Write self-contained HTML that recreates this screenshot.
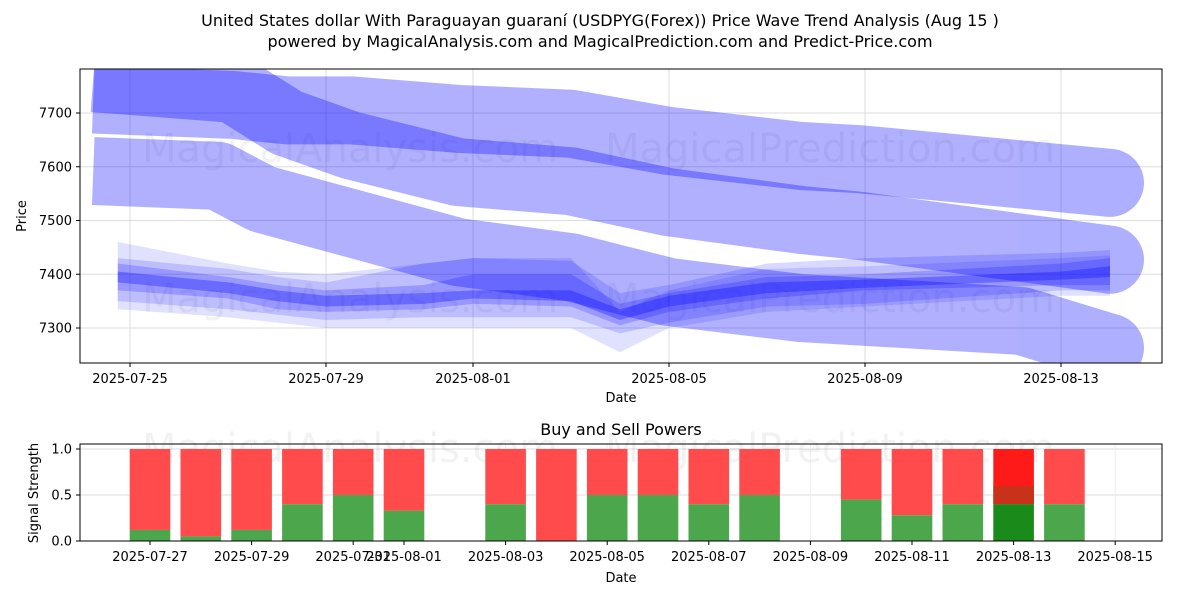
<!DOCTYPE html>
<html><head><meta charset="utf-8">
<style>
body{margin:0;background:#fff;font-family:"Liberation Sans","DejaVu Sans",sans-serif;}
svg text{font-family:"DejaVu Sans","Liberation Sans",sans-serif;}
</style></head>
<body>
<svg id="chart" width="1200" height="600" viewBox="0 0 1200 600" xmlns="http://www.w3.org/2000/svg">
<text x="600" y="26" text-anchor="middle" font-size="16">United States dollar With Paraguayan guaraní (USDPYG(Forex)) Price Wave Trend Analysis (Aug 15 )</text>
<text x="600" y="47" text-anchor="middle" font-size="16">powered by MagicalAnalysis.com and MagicalPrediction.com and Predict-Price.com</text>
<defs>
<clipPath id="c1"><rect x="80" y="69" width="1082" height="294"/></clipPath>
<clipPath id="c2"><rect x="80" y="444" width="1082" height="97"/></clipPath>
</defs>
<g id="topPanel"></g>
<g id="bottomPanel"></g>
</svg>
<script>
// ---- top chart data ----
const waveDays = [-0.75, 2.1, 3.2, 4.5, 6.7, 9, 11, 13.7, 14.9, 20];
const waveA = [7725, 7715, 7705, 7705, 7689, 7680, 7648, 7620, 7614, 7570];
const waveB = [7765, 7745, 7682, 7640, 7590, 7573, 7534, 7501, 7490, 7427];
const waveCDays = [-0.75, 1.8, 2.7, 6.7, 9, 11, 13.7, 18.2, 20];
const waveC = [7592, 7583, 7540, 7441, 7413, 7367, 7337, 7313, 7263];
const clusterDays = [-0.25, 2, 3, 4, 6, 7, 9, 10, 11, 13, 15, 19, 20];
const band1Up = [7460,7420,7405,7400,7420,7430,7430,7330,7370,7410,7415,7430,7435];
const band1Lo = [7335,7320,7310,7300,7300,7300,7300,7255,7300,7330,7340,7360,7360];
const band2Up = [7430,7410,7395,7385,7420,7430,7425,7365,7380,7420,7430,7440,7445];
const band2Lo = [7350,7335,7325,7315,7320,7320,7320,7290,7310,7340,7345,7370,7370];
const band3Up = [7420,7395,7380,7370,7380,7400,7400,7345,7365,7395,7400,7420,7430];
const band3Lo = [7370,7355,7335,7330,7335,7345,7340,7305,7330,7355,7370,7380,7380];
const band4Up = [7405,7385,7370,7360,7365,7370,7370,7335,7360,7385,7390,7405,7415];
const band4Lo = [7385,7365,7350,7340,7345,7355,7350,7315,7340,7365,7375,7390,7395];
const yTicks = [7300, 7400, 7500, 7600, 7700];
const xTickDays = [0, 4, 7, 11, 15, 19];
const xTickLabels = ["2025-07-25","2025-07-29","2025-08-01","2025-08-05","2025-08-09","2025-08-13"];
// ---- bottom chart data ----
const barDays = [0,1,2,3,4,5,7,8,9,10,11,12,14,15,16,17,18];
const buyPower = [0.12,0.05,0.12,0.4,0.5,0.33,0.4,0,0.5,0.5,0.4,0.5,0.45,0.28,0.4,0.4,0.4];
const bTickDays = [0,2,4,5,7,9,11,13,15,17,19];
const bTickLabels = ["2025-07-27","2025-07-29","2025-07-31","2025-08-01","2025-08-03","2025-08-05","2025-08-07","2025-08-09","2025-08-11","2025-08-13","2025-08-15"];
const bYTicks = [0, 0.5, 1.0];

const NS="http://www.w3.org/2000/svg";
function mk(tag, attrs, parent, txt){const e=document.createElementNS(NS,tag);for(const k in attrs)e.setAttribute(k,attrs[k]);if(txt!==undefined)e.textContent=txt;parent.appendChild(e);return e;}
const X = d => 130 + 49*d;
const Y = v => 113 + (7700 - v)*0.5375;
const BX = d => 150 + 50.8*d;
const BY = v => 541 - 92*v;

const topG=document.getElementById('topPanel');
mk('rect',{x:80,y:69,width:1082,height:294,fill:'#fff'},topG);
yTicks.forEach(v=>{const l=mk('line',{x1:80,x2:1162,y1:Y(v),y2:Y(v),stroke:'#ddd','stroke-width':1},topG);

});
xTickDays.forEach(d=>{const l=mk('line',{x1:X(d),x2:X(d),y1:69,y2:363,stroke:'#ddd','stroke-width':1},topG);

});
mk('text',{x:350,y:162,'font-size':40,fill:'#000','fill-opacity':0.05,'text-anchor':'middle'},topG,'MagicalAnalysis.com');
mk('text',{x:830,y:162,'font-size':40,fill:'#000','fill-opacity':0.05,'text-anchor':'middle'},topG,'MagicalPrediction.com');
mk('text',{x:350,y:312,'font-size':40,fill:'#000','fill-opacity':0.05,'text-anchor':'middle'},topG,'MagicalAnalysis.com');
mk('text',{x:830,y:312,'font-size':40,fill:'#000','fill-opacity':0.05,'text-anchor':'middle'},topG,'MagicalPrediction.com');
const g1=mk('g',{'clip-path':'url(#c1)'},topG);
[[waveDays,waveA,'wave-a'],[waveDays,waveB,'wave-b'],[waveCDays,waveC,'wave-c']].forEach(([days,arr,name])=>{
  const wg=mk('g',{opacity:0.31},g1);
  
  
  const pts=arr.map((v,i)=>X(days[i])+','+Y(v)).join(' ');
  mk('polyline',{points:pts,fill:'none',stroke:'#0000ff','stroke-width':68,'stroke-linejoin':'round'},wg);
  const n=arr.length-1;
  mk('circle',{cx:X(days[n]),cy:Y(arr[n]),r:34,fill:'#0000ff'},wg);
});
[[band1Up,band1Lo,0.12],[band2Up,band2Lo,0.15],[band3Up,band3Lo,0.2],[band4Up,band4Lo,0.3]].forEach(([u,l,o],bi)=>{
  const pts=u.map((v,i)=>X(clusterDays[i])+','+Y(v)).concat(l.map((v,i)=>X(clusterDays[i])+','+Y(v)).reverse()).join(' ');
  const p=mk('polygon',{points:pts,fill:'#0000ff','fill-opacity':o},g1);
  
  
});
mk('rect',{x:80,y:69,width:1082,height:294,fill:'none',stroke:'#000','stroke-width':1},topG);
yTicks.forEach(v=>{mk('line',{x1:76,x2:80,y1:Y(v),y2:Y(v),stroke:'#000'},topG);
const t=mk('text',{x:72,y:Y(v)+4.5,'font-size':13,'text-anchor':'end'},topG,String(v));

});
xTickDays.forEach((d,i)=>{mk('line',{x1:X(d),x2:X(d),y1:363,y2:367,stroke:'#000'},topG);
const t=mk('text',{x:X(d),y:383,'font-size':13,'text-anchor':'middle'},topG,xTickLabels[i]);

});
const yt=mk('text',{x:26,y:216,'font-size':13,'text-anchor':'middle',transform:'rotate(-90 26 216)'},topG,'Price');


const xt=mk('text',{x:621,y:402,'font-size':13,'text-anchor':'middle'},topG,'Date');



// bottom
const botG=document.getElementById('bottomPanel');
const bt=mk('text',{x:621,y:435,'font-size':16,'text-anchor':'middle'},botG,'Buy and Sell Powers');


bYTicks.forEach(v=>{mk('line',{x1:80,x2:1162,y1:BY(v),y2:BY(v),stroke:'#ddd'},botG);});
bTickDays.forEach(d=>{mk('line',{x1:BX(d),x2:BX(d),y1:444,y2:541,stroke:'#eee'},botG);});
mk('text',{x:350,y:462,'font-size':40,fill:'#000','fill-opacity':0.05,'text-anchor':'middle'},botG,'MagicalAnalysis.com');
mk('text',{x:830,y:462,'font-size':40,fill:'#000','fill-opacity':0.05,'text-anchor':'middle'},botG,'MagicalPrediction.com');
const g2=mk('g',{'clip-path':'url(#c2)'},botG);
barDays.forEach((d,i)=>{
  const x=BX(d)-20.3, w=40.6, b=buyPower[i];
  const special = (d===17);
  const r=mk('rect',{x:x,y:BY(1),width:w,height:BY(b)-BY(1),fill:special?'#ff1a1a':'#ff4b4b'},g2);
  
  
  if(special){const m=mk('rect',{x:x,y:BY(0.6),width:w,height:BY(b)-BY(0.6),fill:'#c8321a'},g2);
    
    }
  const gb=mk('rect',{x:x,y:BY(b),width:w,height:BY(0)-BY(b),fill:special?'#1a8a1a':'#4ca64c'},g2);
  
  
});
mk('rect',{x:80,y:444,width:1082,height:97,fill:'none',stroke:'#000'},botG);
bYTicks.forEach(v=>{mk('line',{x1:76,x2:80,y1:BY(v),y2:BY(v),stroke:'#000'},botG);
const t=mk('text',{x:72,y:BY(v)+4.5,'font-size':13,'text-anchor':'end'},botG,v.toFixed(1));

});
bTickDays.forEach((d,i)=>{mk('line',{x1:BX(d),x2:BX(d),y1:541,y2:545,stroke:'#000'},botG);
const t=mk('text',{x:BX(d),y:561,'font-size':13,'text-anchor':'middle'},botG,bTickLabels[i]);

});
const by=mk('text',{x:38,y:493,'font-size':13,'text-anchor':'middle',transform:'rotate(-90 38 493)'},botG,'Signal Strength');


const bx=mk('text',{x:621,y:582,'font-size':13,'text-anchor':'middle'},botG,'Date');


</script>
</body></html>
